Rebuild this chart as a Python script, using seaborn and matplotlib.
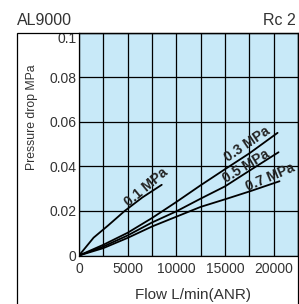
import matplotlib
matplotlib.use("Agg")
import matplotlib.pyplot as plt
import matplotlib.transforms as mtransforms
from matplotlib.patches import Rectangle
from matplotlib.ticker import MultipleLocator, FixedLocator
import seaborn as sns
import pandas as pd

# data
flow_01 = [0, 1500, 3000, 4700, 6500, 8500]
drop_01 = [0, 0.008, 0.0135, 0.020, 0.026, 0.0317]

flow_03 = [0, 2500, 5000, 7500, 10000, 12500, 15000, 17500, 20400]
drop_03 = [0, 0.0048, 0.0102, 0.0168, 0.024, 0.0315, 0.0387, 0.0458, 0.055]

flow_05 = [0, 2500, 5000, 7500, 10000, 12500, 15000, 17500, 20500]
drop_05 = [0, 0.004, 0.009, 0.0148, 0.0198, 0.0255, 0.031, 0.038, 0.0463]

flow_07 = [0, 2500, 5000, 7500, 10000, 12500, 15000, 17500, 20600]
drop_07 = [0, 0.0033, 0.0079, 0.013, 0.0174, 0.0218, 0.0252, 0.0287, 0.0333]

curve_names = ["0.1 MPa", "0.3 MPa", "0.5 MPa", "0.7 MPa"]
x_ticks = [0, 5000, 10000, 15000, 20000]
y_ticks = [0, 0.02, 0.04, 0.06, 0.08, 0.1]
y_tick_labels = ["0", "0.02", "0.04", "0.06", "0.08", "0.1"]

sns.set_style("white")
plt.rcParams["font.family"] = ["Liberation Sans", "DejaVu Sans"]

txt_color = "#333333"
bg_blue = "#c8e9f8"

frames = []
for name, fx, dy in zip(curve_names, [flow_01, flow_03, flow_05, flow_07],
                        [drop_01, drop_03, drop_05, drop_07]):
    frames.append(pd.DataFrame({"flow": fx, "drop": dy, "curve": name}))
df = pd.concat(frames, ignore_index=True)

fig = plt.figure(figsize=(2.99, 3.04), dpi=100)
ax = fig.add_axes([79 / 299, 48.5 / 304, 219 / 299, 223 / 304])
ax.set_facecolor(bg_blue)

sns.lineplot(data=df, x="flow", y="drop", units="curve", estimator=None,
             color="black", lw=1.3, sort=False, ax=ax, legend=False)

ax.set_xlim(0, 22500)
ax.set_ylim(0, 0.1)
ax.xaxis.set_major_locator(FixedLocator(x_ticks))
ax.xaxis.set_minor_locator(MultipleLocator(2500))
ax.set_yticks(y_ticks)
ax.set_yticklabels(y_tick_labels)
ax.grid(True, which="both", axis="x", color="black", lw=0.9)
ax.grid(True, which="major", axis="y", color="black", lw=0.9)
ax.tick_params(which="both", length=0, colors=txt_color, labelsize=10)
ax.tick_params(axis="x", pad=5)
ax.tick_params(axis="y", pad=2)
for s in ax.spines.values():
    s.set_color("black")
    s.set_linewidth(0.9)

# top label "0.1" sits a little below its gridline, under the frame
top_lbl = ax.get_yticklabels()[-1]
top_lbl.set_transform(top_lbl.get_transform() +
                      mtransforms.ScaledTranslation(0, -5 / 100, fig.dpi_scale_trans))

ax.set_xlabel("Flow L/min(ANR)", fontsize=11, color=txt_color)
ax.set_ylabel("Pressure drop MPa", fontsize=8.8, color=txt_color)
ax.xaxis.set_label_coords(0.52, -0.177)
ax.yaxis.set_label_coords(-0.214, 0.62)
ax.xaxis.label.set_va("center")
ax.yaxis.label.set_va("center")

# curve labels
label_spots = [(6950, 0.0308, 40), (17320, 0.0500, 34), (17210, 0.0401, 31), (19670, 0.0352, 23)]
for name, (lx, ly, rot) in zip(curve_names, label_spots):
    ax.text(lx, ly, name, rotation=rot, ha="center", va="center", fontsize=10,
            fontweight="bold", color="#222222", rotation_mode="anchor")

# outer frame
fig.add_artist(Rectangle((17 / 299, -0.05), 281 / 299, 1.05 - 32.5 / 304,
                         transform=fig.transFigure, fill=False, ec="black", lw=0.9))

fig.text(17 / 299, 1 - 25 / 304, "AL9000", ha="left", va="baseline", fontsize=11.5, color=txt_color)
fig.text(296 / 299, 1 - 25 / 304, "Rc 2", ha="right", va="baseline", fontsize=11.5, color=txt_color)

fig.savefig("out.png", dpi=100)
